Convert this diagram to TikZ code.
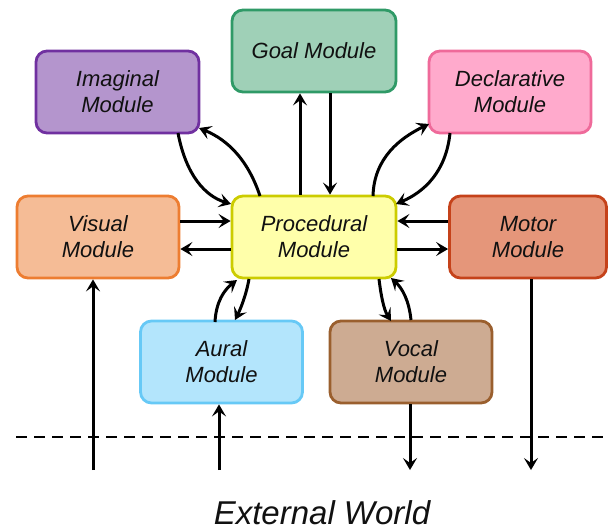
\documentclass[tikz,border=0pt]{standalone}
\usepackage{fontspec}
\setmainfont{Liberation Sans}
\usetikzlibrary{arrows.meta}
\definecolor{goalF}{HTML}{9FD0B7}\definecolor{goalD}{HTML}{2F9A67}
\definecolor{imagF}{HTML}{B495CD}\definecolor{imagD}{HTML}{7030A0}
\definecolor{declF}{HTML}{FFAACC}\definecolor{declD}{HTML}{EF6A9A}
\definecolor{visF}{HTML}{F5BC96}\definecolor{visD}{HTML}{ED7D31}
\definecolor{procF}{HTML}{FFFFAA}\definecolor{procD}{HTML}{CCCC00}
\definecolor{motF}{HTML}{E5967A}\definecolor{motD}{HTML}{C5421A}
\definecolor{aurF}{HTML}{B3E5FC}\definecolor{aurD}{HTML}{67C9F6}
\definecolor{vocF}{HTML}{CDAB92}\definecolor{vocD}{HTML}{9A5F2E}
\definecolor{txt}{HTML}{111111}
\begin{document}
\begin{tikzpicture}[x=1pt,y=-1pt,
  module/.style={draw, line width=2.8pt, rounded corners=11pt, minimum width=162pt, minimum height=82pt,
    align=center, text=txt, font=\fontsize{22}{26}\selectfont\itshape, inner sep=0pt},
  arr/.style={line width=3pt, -{Stealth[length=12pt,width=14pt,inset=5pt]}}]
\useasboundingbox (0,0) rectangle (610,531);
\node[module, fill=goalF, draw=goalD, minimum width=164pt] (goal) at (314,51) {Goal Module};
\node[module, fill=imagF, draw=imagD, minimum width=163pt] (imag) at (117.5,92) {Imaginal\\Module};
\node[module, fill=declF, draw=declD] (decl) at (510,92) {Declarative\\Module};
\node[module, fill=visF, draw=visD] (vis) at (98,237) {Visual\\Module};
\node[module, fill=procF, draw=procD, minimum width=164pt] (proc) at (314,237) {Procedural\\Module};
\node[module, fill=motF, draw=motD, minimum width=157pt] (mot) at (528,237) {Motor\\Module};
\node[module, fill=aurF, draw=aurD] (aur) at (221.5,362) {Aural\\Module};
\node[module, fill=vocF, draw=vocD] (voc) at (411,362) {Vocal\\Module};
% horizontal
\draw[arr] (vis.east |- 0,221) -- (proc.west |- 0,221);
\draw[arr] (proc.west |- 0,249) -- (vis.east |- 0,249);
\draw[arr] (mot.west |- 0,221) -- (proc.east |- 0,221);
\draw[arr] (proc.east |- 0,249) -- (mot.west |- 0,249);
% goal
\draw[arr] (proc.north -| 300,0) -- (goal.south -| 300,0);
\draw[arr] (goal.south -| 330,0) -- (proc.north -| 330,0);
% imaginal
\coordinate (i1) at (178,133); \coordinate (i2) at (231,204);
\coordinate (i3) at (260,196); \coordinate (i4) at (199,128);
\draw[arr] (i1) .. controls (186,175) and (205,196) .. (i2);
\draw[arr] (i3) .. controls (248,160) and (228,140) .. (i4);
% declarative
\coordinate (d1) at (373,196); \coordinate (d2) at (429,124);
\coordinate (d3) at (450,133); \coordinate (d4) at (396,204);
\draw[arr] (d1) .. controls (374,158) and (400,138) .. (d2);
\draw[arr] (d3) .. controls (446,172) and (424,192) .. (d4);
% aural
\coordinate (a1) at (215,322); \coordinate (a2) at (237,280);
\coordinate (a3) at (249,279); \coordinate (a4) at (235,320);
\draw[arr] (a1) .. controls (216,302) and (224,290) .. (a2);
\draw[arr] (a3) .. controls (246,296) and (240,310) .. (a4);
% vocal
\coordinate (v1) at (379,279); \coordinate (v2) at (391,321);
\coordinate (v3) at (411,320); \coordinate (v4) at (391,278);
\draw[arr] (v1) .. controls (381,296) and (384,310) .. (v2);
\draw[arr] (v3) .. controls (409,300) and (402,288) .. (v4);
% external
\coordinate (ev) at (93,470); \coordinate (ea) at (219,470);
\coordinate (eo) at (410,470); \coordinate (em) at (531,470);
\draw[arr] (ev) -- (ev |- vis.south);
\draw[arr] (ea) -- (ea |- aur.south);
\draw[arr] (eo |- voc.south) -- (eo);
\draw[arr] (em |- mot.south) -- (em);
\coordinate (dl) at (16,437); \coordinate (dr) at (610,437);
\draw[line width=2.8pt, dash pattern=on 11pt off 7pt] (dl) -- (dr);
\node[text=txt, font=\fontsize{33}{38}\selectfont\itshape] (ext) at (322,513) {External World};
\end{tikzpicture}
\end{document}
